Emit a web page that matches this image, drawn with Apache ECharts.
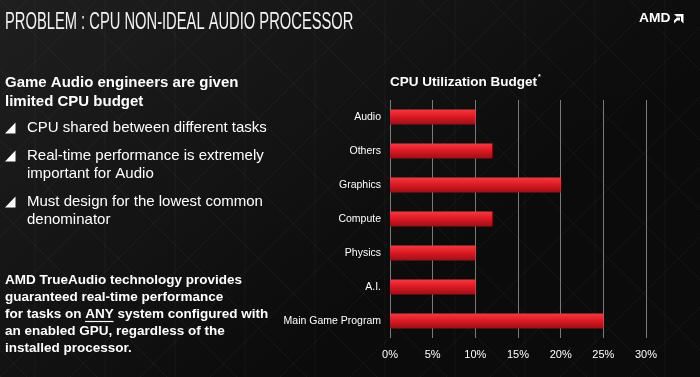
<!DOCTYPE html>
<html>
<head>
    <meta charset="utf-8">
    <title>CPU Utilization Budget</title>
    <script src="https://cdn.jsdelivr.net/npm/echarts@6/dist/echarts.min.js"></script>
    <style>
        html, body { margin: 0; padding: 0; background: #141414; }
    </style>
</head>
<body>
    <div id="main" style="width: 700px;height:377px;"></div>
    <script type="text/javascript">
        // chart data
        var categories = ['Audio', 'Others', 'Graphics', 'Compute', 'Physics', 'A.I.', 'Main Game Program'];
        var budget = [10, 12, 20, 12, 10, 10, 25];
        var xMax = 30;
        var xStep = 5;

        // slide texts
        var slideTitle = 'PROBLEM : CPU NON-IDEAL AUDIO PROCESSOR';
        var chartTitle = 'CPU Utilization Budget';
        var introLines = ['Game Audio engineers are given', 'limited CPU budget'];
        var bulletLines = [
            ['CPU shared between different tasks'],
            ['Real-time performance is extremely', 'important for Audio'],
            ['Must design for the lowest common', 'denominator']
        ];
        var footLines = [
            'AMD TrueAudio technology provides',
            'guaranteed real-time performance',
            'for tasks on ANY system configured with',
            'an enabled GPU, regardless of the',
            'installed processor.'
        ];

        var myChart = echarts.init(document.getElementById('main'));

        // faint triangle lattice in the background
        var deco = [];
        var step = 70;
        for (var i = -6; i < 16; i++) {
            var x0 = i * step;
            deco.push({ type: 'line', shape: { x1: x0, y1: 0, x2: x0 + 377, y2: 377 } });
            deco.push({ type: 'line', shape: { x1: x0 + 377, y1: 0, x2: x0, y2: 377 } });
            deco.push({ type: 'line', shape: { x1: x0 + step / 2, y1: 0, x2: x0 + step / 2, y2: 377 } });
        }
        deco.forEach(function (d) {
            d.silent = true;
            d.style = { stroke: 'rgba(255,255,255,0.045)', lineWidth: 1 };
        });

        var texts = [];
        texts.push({
            type: 'text', x: 5, y: 23, scaleX: 0.64, silent: true,
            style: { text: slideTitle, fill: '#f2f2f2', font: '23px "Liberation Sans", Arial, sans-serif', textVerticalAlign: 'middle' }
        });
        texts.push({
            type: 'text', x: 639, y: 18.5, scaleX: 1.15, silent: true,
            style: { text: 'AMD', fill: '#ffffff', font: 'bold 12px "Liberation Sans", Arial, sans-serif', textVerticalAlign: 'middle' }
        });
        // AMD arrow mark
        texts.push({
            type: 'polygon', silent: true,
            shape: { points: [[674, 14], [683.5, 14], [683.5, 23.5], [681, 21], [681, 16.5], [676.5, 16.5]] },
            style: { fill: '#ffffff' }
        });
        texts.push({
            type: 'polygon', silent: true,
            shape: { points: [[674, 20.5], [677, 17.5], [680, 17.5], [680, 20.5], [677, 20.5], [674, 23.5]] },
            style: { fill: '#ffffff' }
        });
        texts.push({
            type: 'text', x: 390, y: 82, silent: true,
            style: { text: chartTitle, fill: '#ffffff', font: 'bold 13.5px "Liberation Sans", Arial, sans-serif', textVerticalAlign: 'middle' }
        });
        texts.push({
            type: 'text', x: 538, y: 77, silent: true,
            style: { text: '*', fill: '#ffffff', font: 'bold 7px "Liberation Sans", Arial, sans-serif', textVerticalAlign: 'middle' }
        });

        introLines.forEach(function (t, k) {
            texts.push({
                type: 'text', x: 5, y: 83 + k * 18.5, silent: true,
                style: { text: t, fill: '#ffffff', font: 'bold 15px "Liberation Sans", Arial, sans-serif', textVerticalAlign: 'middle' }
            });
        });

        var bulletY = [128, 156, 202];
        bulletLines.forEach(function (lines, b) {
            var y = bulletY[b];
            texts.push({
                type: 'polygon', silent: true,
                shape: { points: [[5, y + 5.5], [15.5, y + 5.5], [15.5, y - 5.5]] },
                style: { fill: '#ffffff' }
            });
            lines.forEach(function (t, k) {
                texts.push({
                    type: 'text', x: 27, y: y + k * 17.5, silent: true,
                    style: { text: t, fill: '#ffffff', font: '15px "Liberation Sans", Arial, sans-serif', textVerticalAlign: 'middle' }
                });
            });
        });

        footLines.forEach(function (t, k) {
            texts.push({
                type: 'text', x: 5, y: 280 + k * 17, silent: true,
                style: { text: t, fill: '#ffffff', font: 'bold 13.5px "Liberation Sans", Arial, sans-serif', textVerticalAlign: 'middle' }
            });
        });
        // underline below "ANY"
        texts.push({
            type: 'line', silent: true,
            shape: { x1: 85, y1: 321.5, x2: 113.5, y2: 321.5 },
            style: { stroke: '#ffffff', lineWidth: 1.2 }
        });

        myChart.setOption({
            animation: false,
            backgroundColor: {
                type: 'linear', x: 0, y: 0, x2: 0.4, y2: 1,
                colorStops: [{ offset: 0, color: '#1f1f1f' }, { offset: 1, color: '#0b0b0b' }]
            },
            graphic: [
                { type: 'group', silent: true, children: deco },
                { type: 'group', silent: true, children: texts }
            ],
            grid: { left: 390, right: 54, top: 100, bottom: 39 },
            xAxis: {
                type: 'value',
                min: 0,
                max: xMax,
                interval: xStep,
                axisLine: { show: false },
                axisTick: { show: false },
                splitLine: { show: true, lineStyle: { color: '#7a7a7a', width: 1 } },
                axisLabel: {
                    color: '#ffffff',
                    fontSize: 11,
                    fontFamily: '"Liberation Sans", Arial, sans-serif',
                    margin: 11,
                    formatter: '{value}%'
                }
            },
            yAxis: {
                type: 'category',
                data: categories,
                inverse: true,
                axisLine: { show: false },
                axisTick: { show: false },
                axisLabel: {
                    color: '#ffffff',
                    fontSize: 10.5,
                    fontFamily: '"Liberation Sans", Arial, sans-serif',
                    margin: 9
                }
            },
            series: [{
                type: 'bar',
                data: budget,
                barWidth: 15,
                itemStyle: {
                    color: {
                        type: 'linear', x: 0, y: 0, x2: 0, y2: 1,
                        colorStops: [
                            { offset: 0, color: '#f03a40' },
                            { offset: 0.45, color: '#e01b24' },
                            { offset: 1, color: '#9c0f17' }
                        ]
                    }
                }
            }]
        });
    </script>
</body>
</html>
